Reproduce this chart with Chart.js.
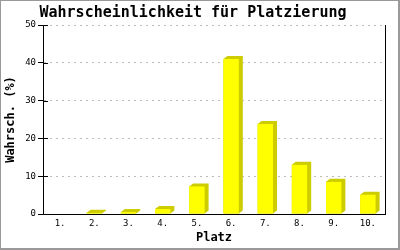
<!DOCTYPE html>
<html>
<head>
<meta charset="utf-8">
<script src="https://cdn.jsdelivr.net/npm/chart.js@4"></script>
<style>
  html, body { margin: 0; padding: 0; background: #fff; }
  #wrap { width: 400px; height: 250px; box-sizing: border-box; border: 1px solid #999; border-right-width: 2px; border-bottom-width: 2px; }
  canvas { display: block; }
</style>
</head>
<body>
<div id="wrap"><canvas id="chart" width="397" height="247"></canvas></div>
<script>
var places = ["1.", "2.", "3.", "4.", "5.", "6.", "7.", "8.", "9.", "10."];
var probs = [0, 0.3, 0.5, 1.3, 7.3, 41.0, 23.8, 13.0, 8.5, 5.1];
var yTicks = [0, 10, 20, 30, 40, 50];

var mono = "'DejaVu Sans Mono', 'Liberation Mono', monospace";

// dunkle Seite + Deckel der Balken (3D-Effekt)
var extrude = {
    id: "extrude",
    beforeDatasetsDraw: function (chart) {
        var ctx = chart.ctx;
        var meta = chart.getDatasetMeta(0);
        ctx.save();
        ctx.fillStyle = "#cccc00";
        meta.data.forEach(function (bar) {
            var p = bar.getProps(["x", "y", "base", "width"], true);
            if (p.base - p.y <= 0) return;
            var l = p.x - p.width / 2, r = p.x + p.width / 2;
            ctx.beginPath();
            ctx.moveTo(l, p.y);
            ctx.lineTo(l + 4, p.y - 3);
            ctx.lineTo(r + 4, p.y - 3);
            ctx.lineTo(r + 4, p.base - 3);
            ctx.lineTo(r, p.base);
            ctx.lineTo(l, p.base);
            ctx.closePath();
            ctx.fill();
        });
        ctx.restore();
    }
};

// rechte Rahmenlinie und Ticks nach innen
var frame = {
    id: "frame",
    afterDraw: function (chart) {
        var ctx = chart.ctx;
        var a = chart.chartArea;
        var y = chart.scales.y;
        ctx.save();
        ctx.strokeStyle = "#000";
        ctx.lineWidth = 1;
        ctx.beginPath();
        ctx.moveTo(Math.round(a.right) + 0.5, a.top);
        ctx.lineTo(Math.round(a.right) + 0.5, a.bottom);
        y.ticks.forEach(function (t) {
            var py = Math.round(y.getPixelForValue(t.value)) + 0.5;
            ctx.moveTo(a.left, py);
            ctx.lineTo(a.left + 5, py);
        });
        ctx.stroke();
        ctx.restore();
    }
};

new Chart(document.getElementById("chart").getContext("2d"), {
    type: "bar",
    data: {
        labels: places,
        datasets: [{
            data: probs,
            backgroundColor: "#ffff00",
            borderWidth: 0,
            categoryPercentage: 1,
            barPercentage: 0.45
        }]
    },
    options: {
        responsive: false,
        animation: false,
        layout: { padding: { left: 0, right: 13, top: 0, bottom: 0 } },
        plugins: {
            legend: { display: false },
            tooltip: { enabled: false },
            title: {
                display: true,
                text: "Wahrscheinlichkeit für Platzierung",
                color: "#000",
                font: { family: mono, size: 15, weight: "bold", lineHeight: 1.2 },
                padding: { top: 3, bottom: 3 }
            }
        },
        scales: {
            x: {
                grid: { display: false, drawTicks: false },
                border: { display: true, color: "#000", width: 1 },
                ticks: { color: "#000", font: { family: mono, size: 9 }, padding: 4, maxRotation: 0 },
                title: {
                    display: true,
                    text: "Platz",
                    color: "#000",
                    font: { family: mono, size: 12, weight: "bold", lineHeight: 1.2 },
                    padding: { top: 0, bottom: 3 }
                },
                afterFit: function (s) { s.height = 34; }
            },
            y: {
                min: 0,
                max: 50,
                afterBuildTicks: function (s) {
                    s.ticks = yTicks.map(function (v) { return { value: v }; });
                },
                grid: {
                    color: function (c) { return c.tick && c.tick.value === 0 ? "rgba(0,0,0,0)" : "#bbbbbb"; },
                    tickColor: "#000",
                    tickLength: 5
                },
                border: { display: true, color: "#000", width: 1, dash: [2, 4] },
                ticks: { color: "#000", font: { family: mono, size: 9 }, padding: 2 },
                title: {
                    display: true,
                    text: "Wahrsch. (%)",
                    color: "#000",
                    font: { family: mono, size: 12, weight: "bold", lineHeight: 1.2 },
                    padding: { top: 3, bottom: 0 }
                },
                afterFit: function (s) { s.width = 42; }
            }
        }
    },
    plugins: [extrude, frame]
});
</script>
</body>
</html>
